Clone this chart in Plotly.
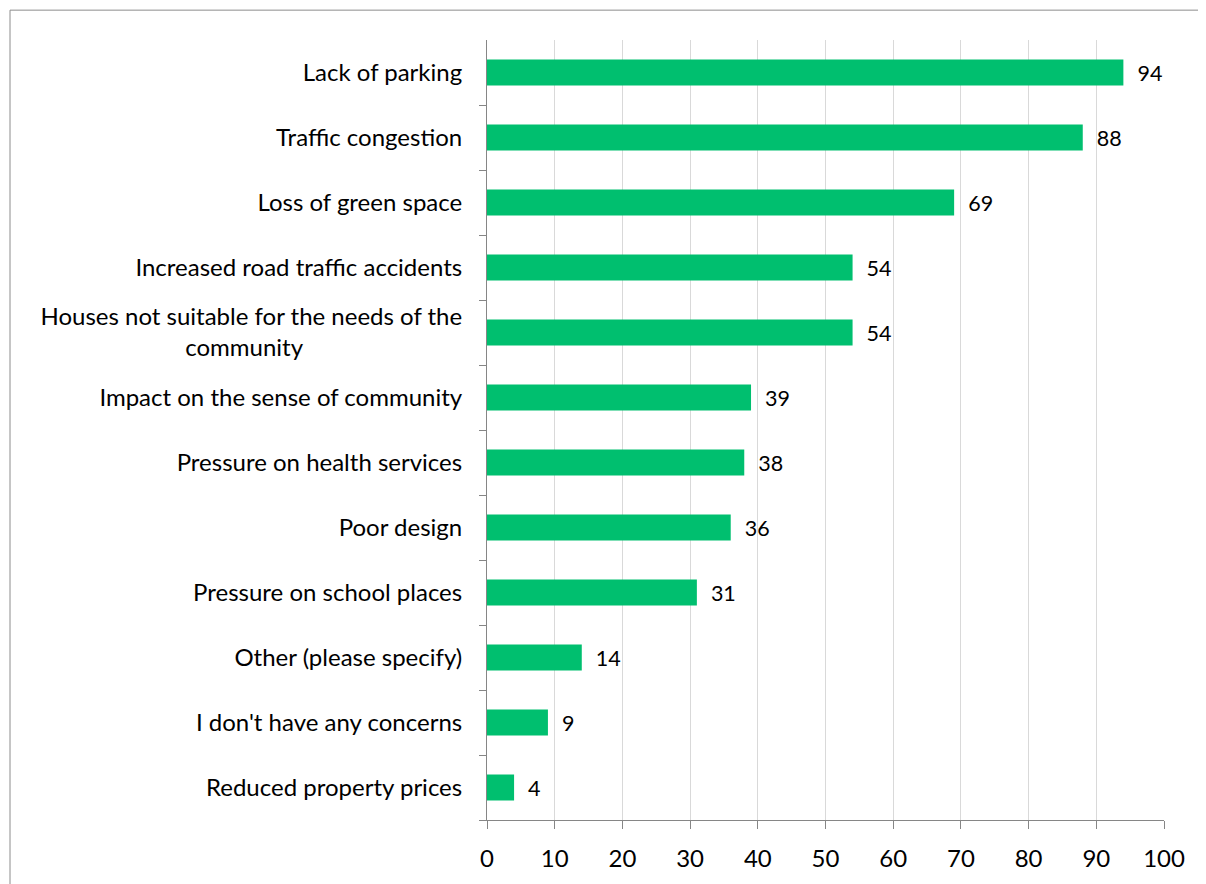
import plotly.graph_objects as go

categories = [
    "Lack of parking",
    "Traffic congestion",
    "Loss of green space",
    "Increased road traffic accidents",
    "Houses not suitable for the needs of the community",
    "Impact on the sense of community",
    "Pressure on health services",
    "Poor design",
    "Pressure on school places",
    "Other (please specify)",
    "I don't have any concerns",
    "Reduced property prices",
]
values = [94, 88, 69, 54, 54, 39, 38, 36, 31, 14, 9, 4]
x_ticks = [0, 10, 20, 30, 40, 50, 60, 70, 80, 90, 100]

display = {
    "Houses not suitable for the needs of the community":
        "Houses not suitable for the needs of the<br>community" + "\u00a0" * 26,
}
tick_text = [display.get(c, c) for c in categories]

FONT = "Lato"
FS = 24
GREEN = "#00BF6F"

fig = go.Figure(
    go.Bar(
        x=values,
        y=categories,
        orientation="h",
        marker=dict(color=GREEN, line=dict(width=0)),
        text=values,
        texttemplate="  %{x}",
        textposition="outside",
        textfont=dict(family=FONT, size=FS, color="#000000"),
        cliponaxis=False,
    )
)

# page body has an 8px margin; compensate so the plot lands where it should
OFF = 8
W, H = 1206 - OFF, 884 - OFF
L, R, T, B = 487 - OFF, 42, 40 - OFF, 60
fig.update_layout(
    width=W,
    height=H,
    margin=dict(l=L, r=R, t=T, b=B, pad=0),
    paper_bgcolor="white",
    plot_bgcolor="white",
    bargap=0.6,
    showlegend=False,
    font=dict(family=FONT, size=FS, color="#000000"),
)
fig.update_xaxes(
    range=[0, 100],
    tickvals=x_ticks,
    showgrid=True,
    gridcolor="#D9D9D9",
    gridwidth=1,
    showline=True,
    linecolor="#868686",
    linewidth=1,
    ticks="outside",
    ticklen=8,
    tickcolor="#868686",
    zeroline=False,
    ticklabelstandoff=9,
    tickfont=dict(family=FONT, size=FS, color="#000000"),
)
fig.update_yaxes(
    categoryorder="array",
    categoryarray=categories[::-1],
    tickmode="array",
    tickvals=categories,
    ticktext=tick_text,
    tickson="boundaries",
    ticks="outside",
    ticklen=7,
    tickcolor="#868686",
    showline=True,
    linecolor="#868686",
    linewidth=1,
    showgrid=False,
    zeroline=False,
    ticklabelstandoff=19,
    tickfont=dict(family=FONT, size=FS, color="#000000"),
)

pw = W - L - R
ph = H - T - B
frame_left, frame_top = 10 - OFF, 10 - OFF
fig.add_shape(
    type="rect",
    xref="paper",
    yref="paper",
    x0=(frame_left - L) / pw,
    x1=(W + 5 - L) / pw,
    y0=-(H + 5 - (H - B)) / ph,
    y1=((H - B) - frame_top) / ph,
    line=dict(color="#8C8C8C", width=1),
    fillcolor="rgba(0,0,0,0)",
    layer="below",
)

fig.write_html("out.html")
